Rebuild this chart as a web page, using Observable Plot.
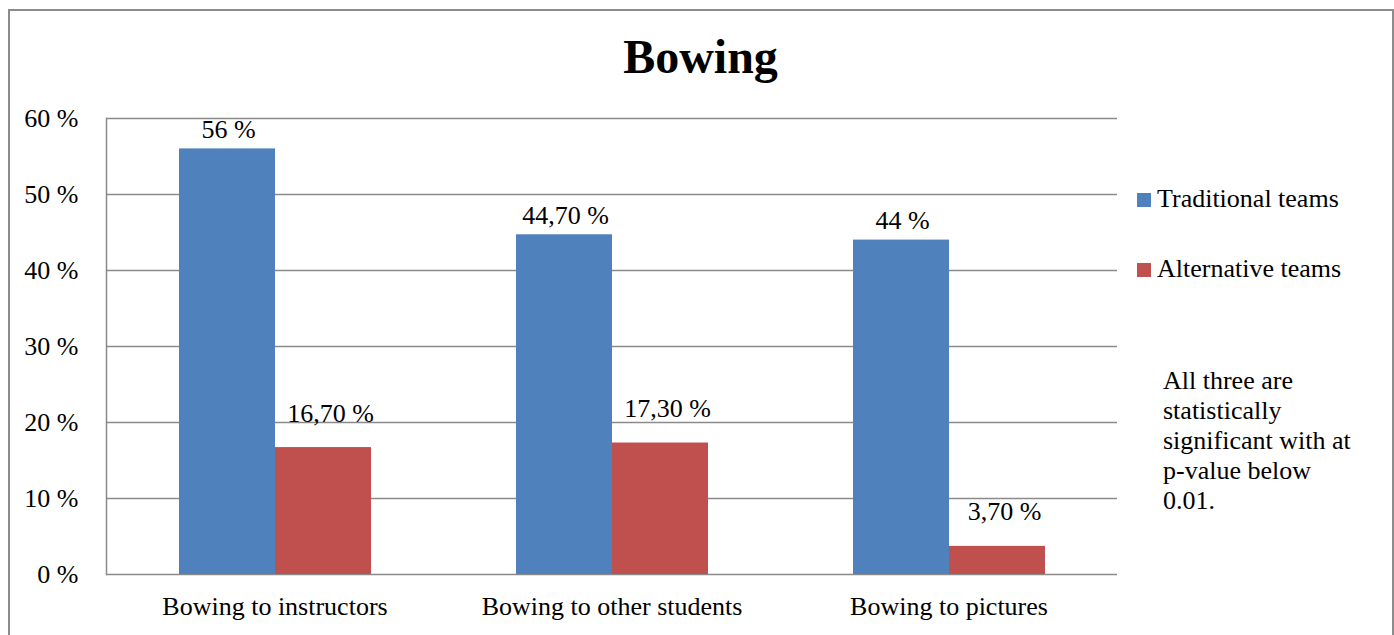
<!DOCTYPE html>
<html>
<head>
<meta charset="utf-8">
<script src="https://cdn.jsdelivr.net/npm/d3@7"></script>
<script src="https://cdn.jsdelivr.net/npm/@observablehq/plot@0.6"></script>
<style>
  html, body { margin: 0; padding: 0; background: #fff; }
  #wrap { position: relative; width: 1394px; height: 635px; overflow: hidden; font-family: "Liberation Serif", "Times New Roman", serif; color: #000; }
  #border { position: absolute; left: 8px; top: 9px; width: 1382px; height: 700px; border: 2px solid #8c8c8c; }
  #chart { position: absolute; left: 0; top: 0; }
  #title { position: absolute; left: 0; width: 1401px; top: 29px; text-align: center; font-weight: bold; font-size: 48px; line-height: 56px; }
  .legend { position: absolute; left: 1137px; font-size: 26px; line-height: 30px; white-space: nowrap; }
  .swatch { position: absolute; left: 0; width: 14px; height: 14px; }
  .legend span.lbl { position: absolute; left: 20px; top: 0; }
  #note { position: absolute; left: 1163px; top: 366px; font-size: 26px; line-height: 30px; }
</style>
</head>
<body>
<div id="wrap">
  <div id="border"></div>
  <div id="chart"></div>
  <div id="title"></div>
  <div id="legend"></div>
  <div id="note"></div>
</div>
<script>
// Share of respondents who bow, by team type
const title = "Bowing";
const categories = ["Bowing to instructors", "Bowing to other students", "Bowing to pictures"];
const series = ["Traditional teams", "Alternative teams"];
const traditional = [56, 44.7, 44];
const alternative = [16.7, 17.3, 3.7];
const colors = ["#4F81BD", "#C0504D"];
const yTicks = [0, 10, 20, 30, 40, 50, 60];
const noteLines = ["All three are", "statistically", "significant with at", "p-value below", "0.01."];

// Percent labels as printed on the chart: whole numbers plain, others with two decimals and a comma
const fmtValue = v => Number.isInteger(v) ? `${v} %` : `${v.toFixed(2).replace(".", ",")} %`;

const rows = [];
categories.forEach((c, i) => {
  rows.push({category: c, series: series[0], value: traditional[i]});
  rows.push({category: c, series: series[1], value: alternative[i]});
});
const tradRows = rows.filter(d => d.series === series[0]);
const altRows = rows.filter(d => d.series === series[1]);

const labelOpts = {fx: "category", x: "series", y: "value", text: d => fmtValue(d.value), lineAnchor: "bottom", fill: "#000", fontSize: 26};

const plot = Plot.plot({
  width: 1394,
  height: 635,
  marginLeft: 106,
  marginRight: 277,
  marginTop: 118,
  marginBottom: 61,
  style: {fontFamily: "'Liberation Serif', 'Times New Roman', serif", fontSize: "26px", color: "#000", background: "transparent"},
  fx: {domain: categories, padding: 0, label: null, tickSize: 0, tickPadding: 22, axis: "bottom"},
  x: {domain: series, axis: null, paddingInner: 0, paddingOuter: 0.755},
  y: {domain: [0, 60], ticks: yTicks, tickFormat: d => `${d} %`, tickSize: 0, tickPadding: 28, label: null},
  color: {domain: series, range: colors},
  marks: [
    Plot.ruleY(yTicks, {stroke: "#8a8a8a", strokeWidth: 1.5}),
    Plot.frame({anchor: "left", facetAnchor: "left", stroke: "#8a8a8a", strokeWidth: 1.5}),
    Plot.barY(rows, {fx: "category", x: "series", y: "value", fill: "series"}),
    // value labels sit a little higher over the alternative-team bars
    Plot.text(tradRows, {...labelOpts, dy: -11, dx: 1}),
    Plot.text(altRows, {...labelOpts, dy: -26, dx: 7})
  ]
});
document.getElementById("chart").appendChild(plot);

document.getElementById("title").textContent = title;

// Legend entries beside the plot
const legend = document.getElementById("legend");
const legendTops = [184, 254];
series.forEach((s, i) => {
  const item = document.createElement("div");
  item.className = "legend";
  item.style.top = legendTops[i] + "px";
  const sw = document.createElement("div");
  sw.className = "swatch";
  sw.style.background = colors[i];
  sw.style.top = "9px";
  const lbl = document.createElement("span");
  lbl.className = "lbl";
  lbl.textContent = s;
  item.appendChild(sw);
  item.appendChild(lbl);
  legend.appendChild(item);
});

const note = document.getElementById("note");
noteLines.forEach(line => {
  const d = document.createElement("div");
  d.textContent = line;
  note.appendChild(d);
});
</script>
</body>
</html>
